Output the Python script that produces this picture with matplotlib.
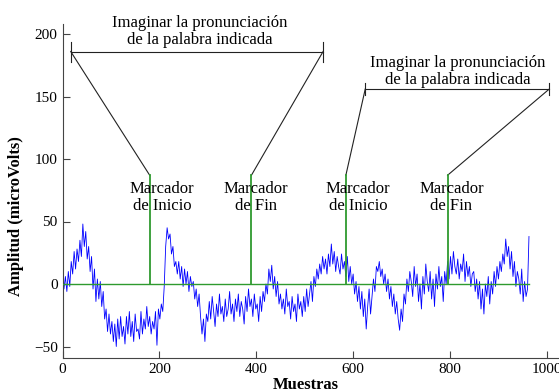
import numpy as np
import matplotlib
matplotlib.use("Agg")
import matplotlib.pyplot as plt

plt.rcParams['font.family'] = ['Liberation Serif', 'DejaVu Serif']

# EEG amplitude (microVolts), one value every 3 samples
signal = [
    3, -4, 6, -6, 10, -2, 18, 8, 26, 12,
    28, 18, 35, 22, 48, 30, 42, 20, 30, 10,
    22, -4, 12, -14, 4, -12, 2, -18, -6, -28,
    -20, -38, -24, -40, -30, -46, -32, -50, -28, -44,
    -26, -42, -34, -48, -26, -40, -22, -42, -30, -46,
    -24, -38, -36, -44, -22, -40, -28, -36, -18, -34,
    -26, -40, -30, -36, -22, -49, -20, -28, -16, -22,
    -2, 30, 45, 36, 40, 24, 30, 14, 18, 8,
    18, 4, 14, -2, 12, 0, 10, -6, 6, -2,
    2, -12, -4, -18, -8, -26, -40, -28, -46, -24,
    -30, -14, -28, -10, -22, -34, -16, -26, -8, -24,
    -18, -30, -12, -26, -20, -6, -24, -16, -30, -12,
    -22, -8, -26, -14, -20, -32, -10, -22, -4, -18,
    -12, -26, -8, -20, -16, -30, -10, -22, -6, -14,
    0, -8, 12, 2, 15, -4, 6, -10, 2, -16,
    -8, -20, -12, -24, -4, -18, -14, -28, -10, -22,
    -16, -30, -8, -20, -14, -26, -10, -22, -4, -18,
    -8, 2, -14, 6, -2, 12, 4, 16, 8, 22,
    12, 20, 8, 24, 14, 32, 16, 26, 10, 22,
    14, 8, 24, 12, 18, 6, 22, 2, 14, 0,
    8, -8, 2, -14, -2, -20, -6, -26, -12, -36,
    -18, -4, -24, -10, 4, -6, 14, 10, 18, 6,
    12, 0, 8, -6, 4, -12, -2, -18, -8, -24,
    -14, -28, -37, -20, -30, -8, -16, 4, -6, 10,
    2, -10, 14, -2, 8, -14, 0, -20, 6, -8,
    16, 2, -6, 10, -12, 4, -18, 8, -4, 14,
    -2, 6, -14, 10, 0, 18, 4, 22, 8, 26,
    14, 8, 20, 4, 16, 10, 24, 2, 18, 6,
    14, -2, 8, 10, -6, 4, -12, 2, -20, -4,
    -24, 0, -10, 6, -16, 2, -8, 10, -2, 14,
    4, 18, 10, 24, 16, 36, 22, 30, 12, 26,
    6, 18, -2, 10, 4, -8, 12, -14, 2, -10,
    -4, 38,
]
sample_step = 3

marker_samples = [180, 390, 585, 795]
marker_labels = ["Marcador\nde Inicio", "Marcador\nde Fin",
                 "Marcador\nde Inicio", "Marcador\nde Fin"]
marker_height = 87
marker_label_x = [206, 400, 610, 803]
marker_label_y = 69

bracket_spans = [(17, 538), (625, 1005)]
bracket_levels = [186, 156]
bracket_tick_half = [8, 5]
bracket_text = "Imaginar la pronunciación\nde la palabra indicada"
bracket_text_x = [284, 815]
bracket_text_y = [202, 170]

xticks = [0, 200, 400, 600, 800, 1000]
yticks = [-50, 0, 50, 100, 150, 200]

samples = np.arange(len(signal)) * sample_step

fig = plt.figure(figsize=(5.59, 3.91), dpi=100)
ax = fig.add_axes([62.5 / 559, 1 - 358 / 391, (559 - 62.5) / 559, (358 - 24) / 391])

ax.plot(samples, signal, color='#0000ff', lw=0.6, zorder=2)
ax.plot([samples[0], samples[-1]], [0, 0], color='#2f9a2f', lw=1.0, zorder=3)
for m in marker_samples:
    ax.plot([m, m], [0, marker_height], color='#2f9a2f', lw=1.3, zorder=3)

for xl, lab in zip(marker_label_x, marker_labels):
    ax.text(xl, marker_label_y, lab, ha='center', va='center', fontsize=12,
            linespacing=1.1, zorder=4)

ann_col = '#222222'
for (x0, x1), lev, th, tx, ty, ms in zip(bracket_spans, bracket_levels, bracket_tick_half,
                                         bracket_text_x, bracket_text_y,
                                         [marker_samples[0:2], marker_samples[2:4]]):
    ax.plot([x0, x1], [lev, lev], color=ann_col, lw=0.8)
    ax.plot([x0, x0], [lev - th, lev + th], color=ann_col, lw=0.8)
    ax.plot([x1, x1], [lev - th, lev + th], color=ann_col, lw=0.8)
    ax.plot([x0, ms[0]], [lev, marker_height], color=ann_col, lw=0.8)
    ax.plot([x1, ms[1]], [lev, marker_height], color=ann_col, lw=0.8)
    ax.text(tx, ty, bracket_text, ha='center', va='center', fontsize=12, linespacing=1.1)

ax.set_xlim(0, 1025)
ax.set_ylim(-59.2, 208)
ax.set_xticks(xticks)
ax.set_yticks(yticks)
ax.tick_params(direction='in', length=5, width=0.8, labelsize=11, color='#444444')
for s in ['top', 'right']:
    ax.spines[s].set_visible(False)
for s in ['left', 'bottom']:
    ax.spines[s].set_color('#444444')
    ax.spines[s].set_linewidth(0.8)

ax.set_xlabel("Muestras", fontsize=12, fontweight='bold')
ax.set_ylabel("Amplitud (microVolts)", fontsize=12, fontweight='bold')
ax.xaxis.set_label_coords(0.49, -0.057)
ax.yaxis.set_label_coords(-0.078, 0.425)

fig.savefig("out.png", dpi=100)
